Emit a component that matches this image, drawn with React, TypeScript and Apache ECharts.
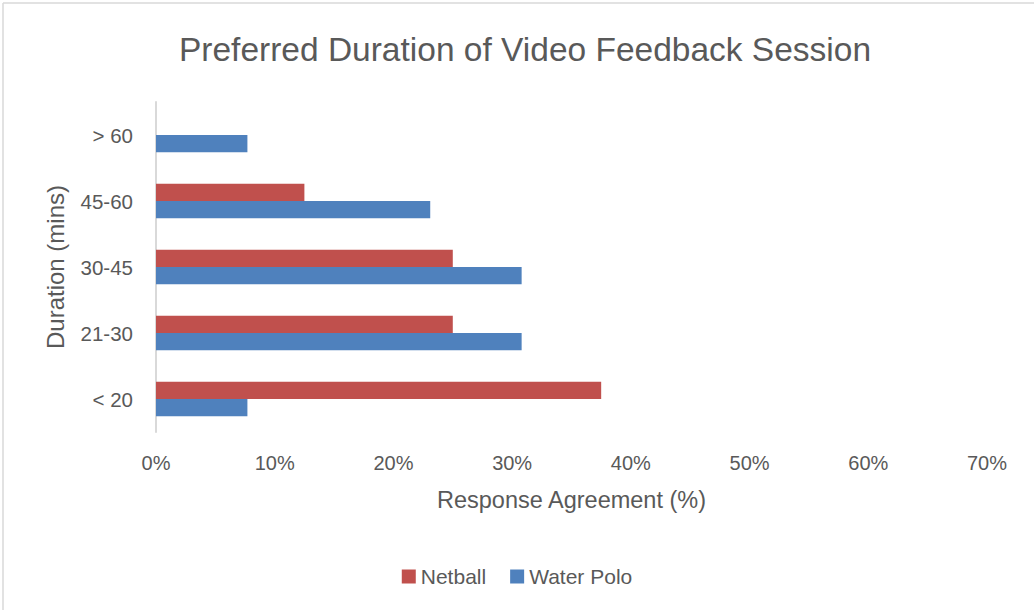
import React, { useEffect, useRef } from "react";
import * as echarts from "echarts";

const categories = ["< 20", "21-30", "30-45", "45-60", "> 60"];
const netball = [37.5, 25, 25, 12.5, 0];
const waterPolo = [7.7, 30.8, 30.8, 23.1, 7.7];
const seriesNames = ["Netball", "Water Polo"];
const titleText = "Preferred Duration of Video Feedback Session";
const xName = "Response Agreement (%)";
const yName = "Duration (mins)";

const FONT = "'Liberation Sans', 'Open Sans', sans-serif";
const TXT = "#595959";

export default function App() {
  const ref = useRef<HTMLDivElement>(null);
  useEffect(() => {
    if (!ref.current) return;
    const chart = echarts.init(ref.current, null, { renderer: "svg" });
    chart.setOption({
      animation: false,
      backgroundColor: "#ffffff",
      textStyle: { fontFamily: FONT, color: TXT },
      title: {
        text: titleText,
        left: 520,
        top: 27,
        textAlign: "center",
        textStyle: { fontFamily: FONT, fontSize: 33.5, fontWeight: "normal", color: TXT },
      },
      legend: {
        data: seriesNames,
        left: "center",
        top: 561,
        itemWidth: 14,
        itemHeight: 14,
        itemGap: 24,
        icon: "rect",
        textStyle: { fontFamily: FONT, fontSize: 21, color: TXT },
      },
      grid: { left: 156, right: 47, top: 102, bottom: 178, containLabel: false },
      xAxis: {
        type: "value",
        min: 0,
        max: 70,
        interval: 10,
        name: xName,
        nameLocation: "middle",
        nameGap: 56,
        nameTextStyle: { fontFamily: FONT, fontSize: 23.5, color: TXT },
        axisLine: { show: false },
        axisTick: { show: false },
        splitLine: { show: false },
        axisLabel: { formatter: "{value}%", margin: 21, fontFamily: FONT, fontSize: 20, color: TXT },
      },
      yAxis: {
        type: "category",
        data: categories,
        name: yName,
        nameLocation: "middle",
        nameRotate: 90,
        nameGap: 89,
        nameTextStyle: { fontFamily: FONT, fontSize: 24, color: TXT },
        axisLine: { show: true, lineStyle: { color: "#d9d9d9", width: 2 } },
        axisTick: { show: false },
        axisLabel: { margin: 23, fontFamily: FONT, fontSize: 20.5, color: TXT },
      },
      series: [
        {
          name: "Netball",
          type: "bar",
          data: netball,
          barGap: "0%",
          barCategoryGap: "48%",
          itemStyle: { color: "#c0504d" },
        },
        {
          name: "Water Polo",
          type: "bar",
          data: waterPolo,
          barGap: "0%",
          barCategoryGap: "48%",
          itemStyle: { color: "#4f81bd" },
        },
      ],
      graphic: [
        { type: "line", shape: { x1: 3, y1: 3, x2: 1034, y2: 3 }, style: { stroke: "#d9d9d9", lineWidth: 1.5 } },
        { type: "line", shape: { x1: 3, y1: 3, x2: 3, y2: 610 }, style: { stroke: "#d9d9d9", lineWidth: 1.5 } },
      ],
    });
    return () => chart.dispose();
  }, []);
  return (
    <div
      ref={ref}
      style={{ position: "fixed", left: 0, top: 0, width: 1034, height: 610 }}
    />
  );
}
